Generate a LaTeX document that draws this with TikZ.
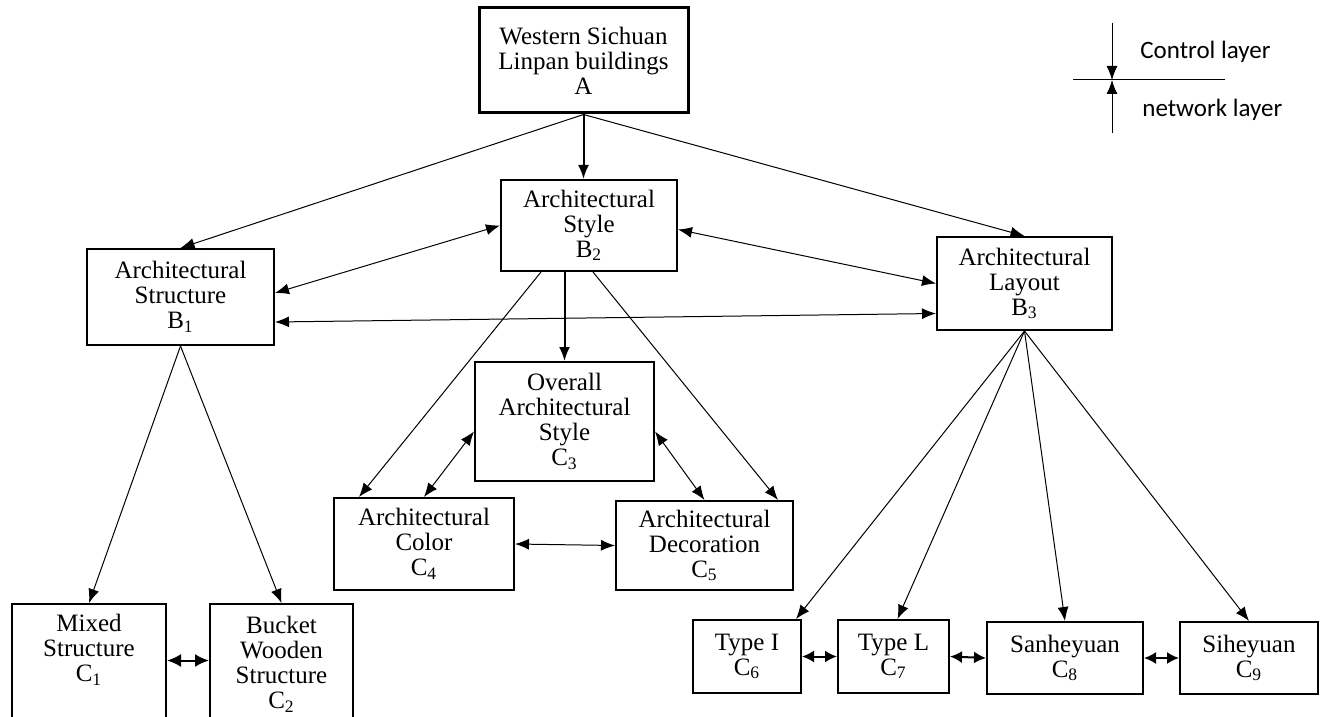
\documentclass[tikz,border=0pt]{standalone}
\usepackage{fontspec}
\setmainfont{Liberation Serif}
\newfontfamily\legendfont{Carlito}
\usetikzlibrary{arrows.meta}

\tikzset{
  box/.style={draw, line width=1pt, align=center, inner sep=0pt,
    font=\fontsize{12.5}{12.5}\selectfont},
  link/.style={-{Latex[length=7pt,width=5.5pt]}, line width=0.5pt},
  boldlink/.style={-{Latex[length=7pt,width=5.5pt]}, line width=1pt},
  twoway/.style={{Latex[length=7pt,width=5.5pt]}-{Latex[length=7pt,width=5.5pt]}, line width=0.5pt},
  shortway/.style={{Latex[length=6pt,width=6pt]}-{Latex[length=6pt,width=6pt]}, line width=1pt},
  legtext/.style={font=\legendfont\fontsize{12.5}{12.5}\selectfont, anchor=west, inner sep=0pt}
}

\begin{document}
\begin{tikzpicture}[x=0.5pt,y=-0.5pt]
\useasboundingbox (0,0) rectangle (1324,717);
% Goal
\node[box, line width=1.5pt, minimum width=104.5pt, minimum height=52.5pt] (A) at (583.5,60.5) {Western Sichuan\\Linpan buildings\\A};
% Criteria
\node[box, minimum width=93.5pt, minimum height=48pt] (B1) at (180.5,297) {Architectural\\Structure\\B\textsubscript{1}};
\node[box, minimum width=88pt, minimum height=45.5pt] (B2) at (589,225.5) {Architectural\\Style\\B\textsubscript{2}};
\node[box, minimum width=87.5pt, minimum height=46.5pt] (B3) at (1024.5,283.5) {Architectural\\Layout\\B\textsubscript{3}};
% Sub-criteria
\node[box, minimum width=77pt, minimum height=60.5pt] (C1) at (89,664.5) {Mixed\\Structure\\C\textsubscript{1}\\\strut};
\node[box, minimum width=71.5pt, minimum height=60.5pt] (C2) at (281.5,664.5) {Bucket\\Wooden\\Structure\\C\textsubscript{2}};
\node[box, minimum width=89.5pt, minimum height=59.5pt] (C3) at (564.5,421.5) {Overall\\Architectural\\Style\\C\textsubscript{3}};
\node[box, minimum width=90pt, minimum height=46pt] (C4) at (424,544) {Architectural\\Color\\C\textsubscript{4}};
\node[box, minimum width=88.5pt, minimum height=44.5pt] (C5) at (704.5,545.5) {Architectural\\Decoration\\C\textsubscript{5}};
\node[box, minimum width=54pt, minimum height=36.5pt] (C6) at (747,656.5) {Type I\\C\textsubscript{6}};
\node[box, minimum width=55.5pt, minimum height=36.5pt] (C7) at (893.5,656.5) {Type L\\C\textsubscript{7}};
\node[box, minimum width=78pt, minimum height=36pt] (C8) at (1065,658) {Sanheyuan\\C\textsubscript{8}};
\node[box, minimum width=69pt, minimum height=36pt] (C9) at (1249,658) {Siheyuan\\C\textsubscript{9}};
% A to B
\draw[link] (A.south) -- (B1.north);
\draw[boldlink] (A.south) -- (A.south |- B2.north);
\draw[link] (A.south) -- (B3.north);
\draw[twoway] ([yshift=2pt]B1.east) -- (B2.west);
\draw[twoway] ([yshift=-2pt]B2.east) -- (B3.west);
\draw[twoway] ([yshift=-12.5pt]B1.east) -- ([yshift=-15pt]B3.west);
% B1
\draw[link] (B1.south) -- (C1.north);
\draw[link] (B1.south) -- (C2.north);
\draw[shortway, {Latex[length=7pt,width=6.5pt]}-{Latex[length=7pt,width=6.5pt]}] ([yshift=2pt]C1.east) -- ([yshift=2pt]C2.west);
% B2
\draw[boldlink] (B2.south -| C3.north) -- (C3.north);
\draw[link] ([xshift=-24pt]B2.south) -- ([xshift=13pt]C4.north west);
\draw[link] ([xshift=2pt]B2.south) -- ([xshift=-8pt]C5.north east);
\draw[twoway] ([yshift=-5pt]C3.west) -- (C4.north);
\draw[twoway] ([yshift=-5pt]C3.east) -- (C5.north);
\draw[twoway] (C4.east) -- (C5.west);
% B3
\draw[link] (B3.south) -- ([xshift=-3pt]C6.north east);
\draw[link] (B3.south) -- ([xshift=2pt]C7.north);
\draw[link] (B3.south) -- (C8.north);
\draw[link] (B3.south) -- (C9.north);
\draw[shortway] (C6.east) -- (C7.west);
\draw[shortway] (C7.east) -- (C8.west);
\draw[shortway] (C8.east) -- (C9.west);
% Legend
\coordinate (ltop) at (1112,23);
\coordinate (lmid) at (1112,80);
\coordinate (lbot) at (1112,133);
\coordinate (lleft) at (1073,80);
\coordinate (lright) at (1225,80);
\draw[line width=0.5pt] (lleft) -- (lright);
\draw[link] (ltop) -- (lmid);
\draw[link] (lbot) -- (lmid);
\node[legtext] (ctl) at (1140,52) {Control layer};
\node[legtext] (net) at (1142,110) {network layer};
\end{tikzpicture}
\end{document}
